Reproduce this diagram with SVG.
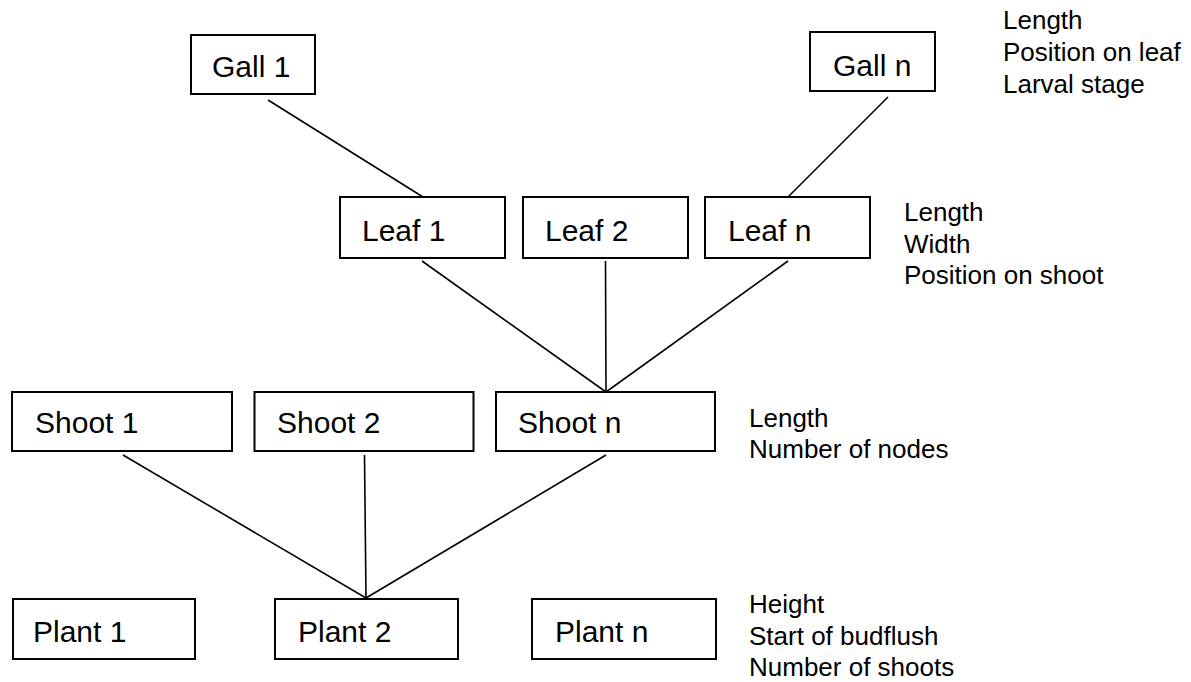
<svg xmlns="http://www.w3.org/2000/svg" width="1191" height="682" viewBox="0 0 1191 682">
<style>
.box{fill:#fff;stroke:#000;stroke-width:2}
.lbl{font-family:"Liberation Sans",Arial,sans-serif;font-size:30px;fill:#000}
.ann{font-family:"Liberation Sans",Arial,sans-serif;font-size:26px;fill:#000}
.con line{stroke:#000;stroke-width:1.6}
</style>
<rect width="1191" height="682" fill="#fff"/>
<g id="connectors" class="con">
<line x1="268" y1="100" x2="423" y2="197"/>
<line x1="888" y1="97" x2="788" y2="197"/>
<line x1="422" y1="261" x2="606" y2="392"/>
<line x1="605.5" y1="261" x2="606" y2="392"/>
<line x1="788" y1="261" x2="606" y2="392"/>
<line x1="123" y1="455" x2="366" y2="598"/>
<line x1="364.5" y1="455" x2="366" y2="598"/>
<line x1="606" y1="455" x2="366" y2="598"/>
</g>
<g id="gall1"><rect class="box" x="191" y="35" width="124" height="59"/><text class="lbl" x="212" y="77">Gall 1</text></g>
<g id="galln"><rect class="box" x="810" y="32" width="125" height="59"/><text class="lbl" x="833" y="76">Gall n</text></g>
<g id="gall-attrs"><text class="ann" x="1003" y="29">Length</text><text class="ann" x="1003" y="61">Position on leaf</text><text class="ann" x="1003" y="93">Larval stage</text></g>
<g id="leaf1"><rect class="box" x="340" y="197" width="165" height="61"/><text class="lbl" x="362" y="241">Leaf 1</text></g>
<g id="leaf2"><rect class="box" x="523" y="197" width="165" height="61"/><text class="lbl" x="545" y="241">Leaf 2</text></g>
<g id="leafn"><rect class="box" x="705" y="197" width="165" height="61"/><text class="lbl" x="728" y="241">Leaf n</text></g>
<g id="leaf-attrs"><text class="ann" x="904" y="221">Length</text><text class="ann" x="904" y="253">Width</text><text class="ann" x="904" y="284">Position on shoot</text></g>
<g id="shoot1"><rect class="box" x="12" y="392" width="220" height="59"/><text class="lbl" x="35" y="433">Shoot 1</text></g>
<g id="shoot2"><rect class="box" x="254.5" y="392" width="219" height="59"/><text class="lbl" x="277" y="433">Shoot 2</text></g>
<g id="shootn"><rect class="box" x="496" y="392" width="219" height="59"/><text class="lbl" x="518" y="433">Shoot n</text></g>
<g id="shoot-attrs"><text class="ann" x="749" y="427">Length</text><text class="ann" x="749" y="458">Number of nodes</text></g>
<g id="plant1"><rect class="box" x="13" y="599" width="182" height="60"/><text class="lbl" x="33" y="642">Plant 1</text></g>
<g id="plant2"><rect class="box" x="275" y="599" width="183" height="60"/><text class="lbl" x="298" y="642">Plant 2</text></g>
<g id="plantn"><rect class="box" x="532" y="599" width="184" height="60"/><text class="lbl" x="555" y="642">Plant n</text></g>
<g id="plant-attrs"><text class="ann" x="749" y="613">Height</text><text class="ann" x="749" y="645">Start of budflush</text><text class="ann" x="749" y="676">Number of shoots</text></g>
</svg>
